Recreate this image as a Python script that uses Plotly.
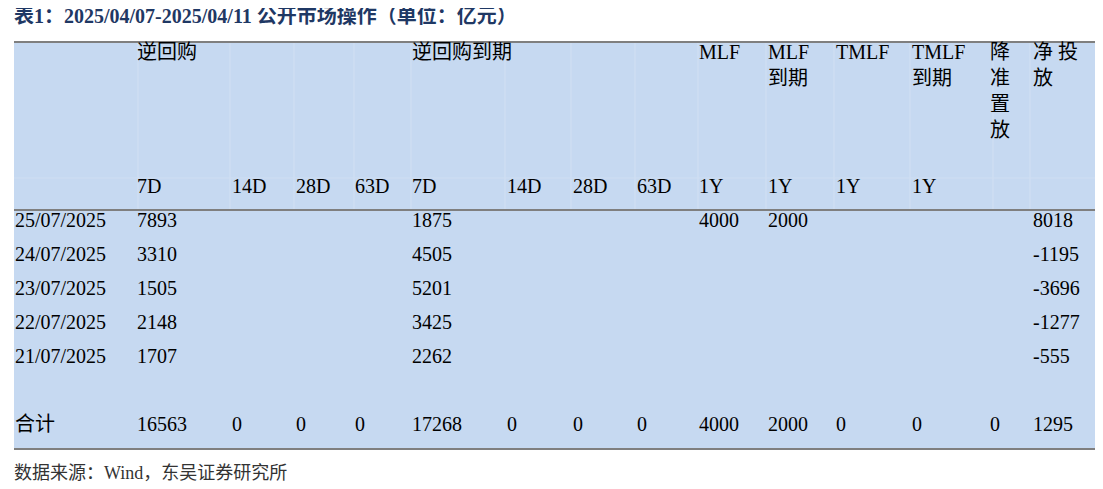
import plotly.graph_objects as go

TITLE = "表1：2025/04/07-2025/04/11 公开市场操作（单位：亿元）"
SOURCE = "数据来源：Wind，东吴证券研究所"

GROUP_HEADERS = ["", "逆回购", "", "", "", "逆回购到期", "", "", "",
                 "MLF", "MLF<br>到期", "TMLF", "TMLF<br>到期", "降<br>准<br>置<br>放", "净 投<br>放"]
SUB_HEADERS = ["", "7D", "14D", "28D", "63D", "7D", "14D", "28D", "63D",
               "1Y", "1Y", "1Y", "1Y", "", ""]

dates = ["25/07/2025", "24/07/2025", "23/07/2025", "22/07/2025", "21/07/2025"]
rr_7d = [7893, 3310, 1505, 2148, 1707]
rr_due_7d = [1875, 4505, 5201, 3425, 2262]
mlf = [4000, "", "", "", ""]
mlf_due = [2000, "", "", "", ""]
net = [8018, -1195, -3696, -1277, -555]

total_label = "合计"
totals = [16563, 0, 0, 0, 17268, 0, 0, 0, 4000, 2000, 0, 0, 0, 1295]

# layout constants (pixels); text anchors are nudged to cancel plotly's annotation offset
W, H = 1103, 489
DX, DY = -10, -8
COL_X = [15, 137, 232, 296, 355, 412, 507, 573, 637, 699, 768, 836, 912, 990, 1033]
SEPS = [130, 222, 286, 346, 403, 497, 563, 627, 690, 758, 826, 902, 985, 1022]
LEFT, RIGHT = 6, 1097
TOP, MID, BOTTOM = 34, 202, 441
ROW_Y = [220, 254, 288, 322, 356]
TOTAL_Y = 424
FILL = "#c6d9f1"
FONT = "Liberation Serif, Noto Sans CJK SC"

fig = go.Figure()
shapes = [
    dict(type="rect", x0=LEFT, x1=RIGHT, y0=TOP, y1=BOTTOM, fillcolor=FILL, line_width=0, layer="below"),
]
for sx in SEPS:
    shapes.append(dict(type="line", x0=sx, x1=sx, y0=TOP, y1=MID, line=dict(color="#d2e0f3", width=1)))
shapes.append(dict(type="line", x0=LEFT, x1=RIGHT, y0=170, y1=170, line=dict(color="#cfdef2", width=1)))
for yy in (TOP, MID, BOTTOM):
    shapes.append(dict(type="line", x0=LEFT, x1=RIGHT, y0=yy, y1=yy, line=dict(color="#7f7f7f", width=2)))

ann = []


def txt(x, y, s, yanchor="middle", size=20):
    ann.append(dict(x=x + DX, y=y + DY, text=str(s), xanchor="left", yanchor=yanchor, showarrow=False,
                    font=dict(family=FONT, size=size, color="black"), align="left"))


for x, g in zip(COL_X, GROUP_HEADERS):
    if g:
        txt(x, 39, g, yanchor="top")
for x, s in zip(COL_X, SUB_HEADERS):
    if s:
        txt(x, 186, s)

for i, y in enumerate(ROW_Y):
    row = [dates[i], rr_7d[i], "", "", "", rr_due_7d[i], "", "", "", mlf[i], mlf_due[i], "", "", "", net[i]]
    for x, v in zip(COL_X, row):
        if v != "":
            txt(x, y, v)

for x, v in zip(COL_X, [total_label] + totals):
    txt(x, TOTAL_Y, v)

ann.append(dict(x=14 + DX, y=15 + DY, text="<b>" + TITLE + "</b>", xanchor="left", yanchor="middle",
                showarrow=False, font=dict(family=FONT, size=20, color="#1f3864")))
ann.append(dict(x=14 + DX, y=473 + DY, text=SOURCE, xanchor="left", yanchor="middle", showarrow=False,
                font=dict(family=FONT, size=18, color="#333333")))

fig.update_layout(
    width=W, height=H,
    margin=dict(l=0, r=0, t=0, b=0),
    paper_bgcolor="white", plot_bgcolor="white",
    xaxis=dict(range=[0, W], visible=False, fixedrange=True),
    yaxis=dict(range=[H, 0], visible=False, fixedrange=True),
    shapes=shapes, annotations=ann, showlegend=False,
)
fig.write_html("out.html")
